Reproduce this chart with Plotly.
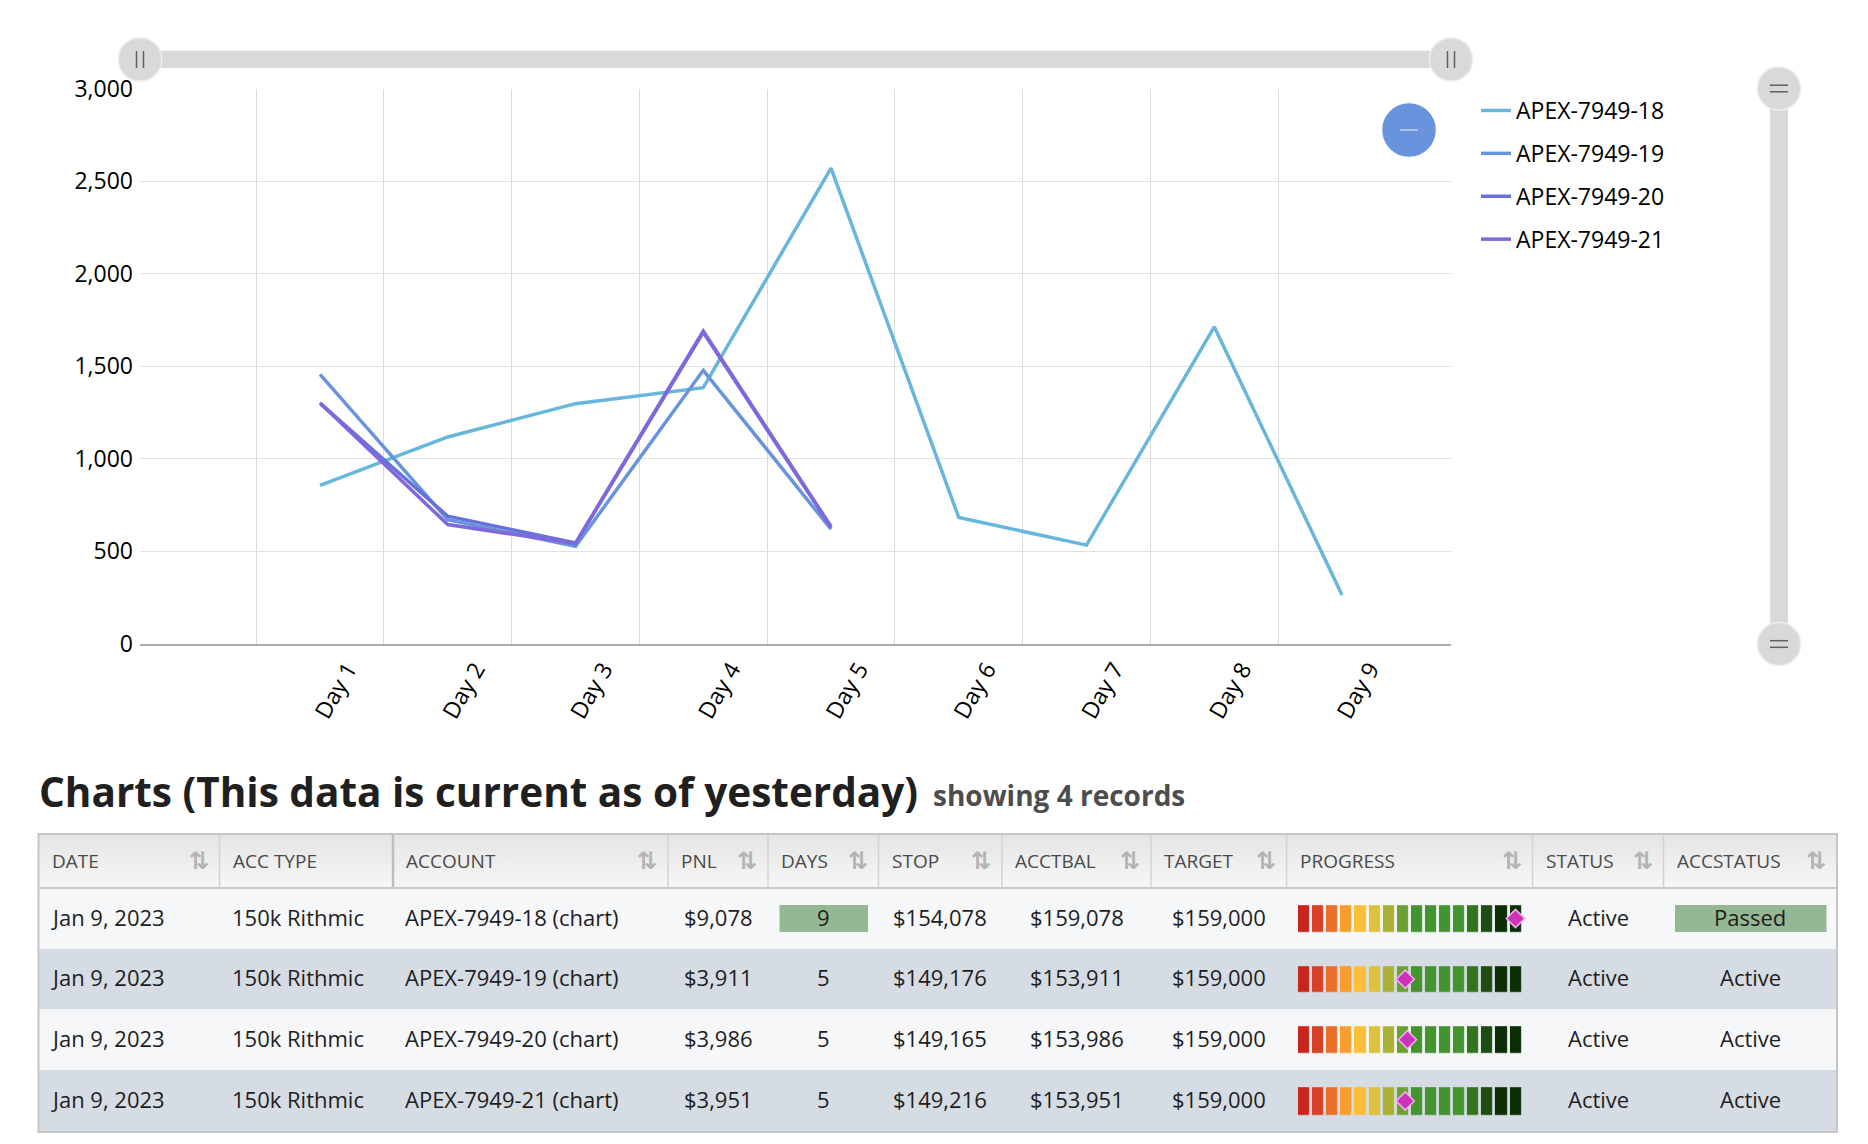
import plotly.graph_objects as go

# =========================
# DATA
# =========================
days_lbl = ["Day 1", "Day 2", "Day 3", "Day 4", "Day 5", "Day 6", "Day 7", "Day 8", "Day 9"]
day_idx = [1, 2, 3, 4, 5, 6, 7, 8, 9]

apex_18 = [857, 1118, 1298, 1384, 2570, 683, 534, 1713, 265]
apex_19 = [1456, 671, 527, 1478, 620]
apex_20 = [1301, 690, 545, 1690, 635]
apex_21 = [1301, 645, 542, 1683, 630]

series_names = ["APEX-7949-18", "APEX-7949-19", "APEX-7949-20", "APEX-7949-21"]
series_vals = [apex_18, apex_19, apex_20, apex_21]
series_colors = ["#67b7dc", "#6794dc", "#6771dc", "#8067dc"]

y_ticks = [0, 500, 1000, 1500, 2000, 2500, 3000]

# table
headers = ["DATE", "ACC TYPE", "ACCOUNT", "PNL", "DAYS", "STOP", "ACCTBAL", "TARGET",
           "PROGRESS", "STATUS", "ACCSTATUS"]
sortable = [True, False, True, True, True, True, True, True, True, True, True]
dates = ["Jan 9, 2023", "Jan 9, 2023", "Jan 9, 2023", "Jan 9, 2023"]
acc_types = ["150k Rithmic", "150k Rithmic", "150k Rithmic", "150k Rithmic"]
accounts = ["APEX-7949-18 (chart)", "APEX-7949-19 (chart)", "APEX-7949-20 (chart)", "APEX-7949-21 (chart)"]
pnl = [9078, 3911, 3986, 3951]
days_traded = [9, 5, 5, 5]
stop = [154078, 149176, 149165, 149216]
acctbal = [159078, 153911, 153986, 153951]
target = [159000, 159000, 159000, 159000]
progress_pct = [97.5, 48.0, 49.0, 48.0]
status = ["Active", "Active", "Active", "Active"]
accstatus = ["Passed", "Active", "Active", "Active"]

seg_colors = ["#c8261c", "#d84127", "#ea6f2a", "#fb9c30", "#fdbe38", "#dfc23c", "#aab234", "#6da033",
              "#43932e", "#43932e", "#43932e", "#43932e", "#33741f", "#1d4d12", "#0d2e05", "#0b2f05"]

# =========================
# PAGE GEOMETRY (pixels)
# =========================
W, H = 1868, 1144
OFF = 8  # page body margin
PLOT_L, PLOT_R, PLOT_T, PLOT_B = 140, 1451, 88.5, 644


def fx(x):
    return (x - OFF) / W


def fy(y):
    return 1 - (y - OFF) / H


col_edges = [38.5, 219.5, 393, 668, 768, 878.5, 1002, 1151, 1286.6, 1532.5, 1663.5, 1837]
col_align = ["left", "left", "left", "center", "center", "center", "center", "center", "bar", "center", "center"]
head_top, head_bot = 834, 888
row_edges = [888, 949, 1009.5, 1070, 1132]

fig = go.Figure()

# =========================
# LINE CHART
# =========================
for name, vals, color in zip(series_names, series_vals, series_colors):
    fig.add_trace(go.Scatter(
        x=day_idx[:len(vals)], y=vals, mode="lines", name=name,
        line=dict(color=color, width=3.5),
        legendgroup=name, hoverinfo="x+y+name",
    ))

# =========================
# TABLE (pixel axes x2/y2)
# =========================
shapes = []
annotations = []
row_bg = ["#f5f7f9", "#d5dce3", "#f5f7f9", "#d5dce3"]
for r in range(4):
    shapes.append(dict(type="rect", xref="x2", yref="y2", layer="below",
                       x0=col_edges[0], x1=col_edges[-1], y0=row_edges[r], y1=row_edges[r + 1],
                       fillcolor=row_bg[r], line=dict(width=0)))

# header gradient
fig.add_trace(go.Scatter(
    x=[col_edges[0], col_edges[-1], col_edges[-1], col_edges[0], col_edges[0]],
    y=[head_top, head_top, head_bot, head_bot, head_top],
    xaxis="x2", yaxis="y2", mode="lines", line=dict(width=0), fill="toself",
    fillgradient=dict(type="vertical", colorscale=[[0, "#f7f7f7"], [1, "#e4e4e4"]]),
    hoverinfo="skip", showlegend=False,
))

row_mid = [(row_edges[r] + row_edges[r + 1]) / 2 for r in range(4)]

# badges (passed accounts)
for r in range(4):
    if accstatus[r] == "Passed":
        for c in (4, 10):
            shapes.append(dict(type="rect", xref="x2", yref="y2", layer="below",
                               x0=col_edges[c] + 11.5, x1=col_edges[c + 1] - 10.5,
                               y0=row_mid[r] - 13.4, y1=row_mid[r] + 13.4,
                               fillcolor="#96b794", line=dict(width=0)))

# progress bars: heatmap segments
bar_l = col_edges[8] + 11.7
pitch = 14.1
seg_x = [bar_l - 1.4 + pitch * k + pitch / 2 for k in range(len(seg_colors))]
cscale = []
for k, c in enumerate(seg_colors):
    cscale.append([k / len(seg_colors), c])
    cscale.append([(k + 1) / len(seg_colors), c])
fig.add_trace(go.Heatmap(
    x=seg_x, y=row_mid, z=[list(range(len(seg_colors))) for _ in range(4)],
    zmin=-0.5, zmax=len(seg_colors) - 0.5, colorscale=cscale, showscale=False,
    xgap=2.8, ygap=(row_edges[1] - row_edges[0]) - 26.8,
    xaxis="x2", yaxis="y2", hoverinfo="skip",
))
bar_w = pitch * len(seg_colors) - 2.8
fig.add_trace(go.Scatter(
    x=[bar_l + p / 100 * bar_w for p in progress_pct], y=row_mid,
    mode="markers", xaxis="x2", yaxis="y2",
    marker=dict(symbol="diamond", size=14, color="#cc33bb", line=dict(color="#f0b0e8", width=1.5)),
    hoverinfo="skip", showlegend=False,
))

# header separators, borders
for c in range(1, len(col_edges) - 1):
    shapes.append(dict(type="line", xref="x2", yref="y2", x0=col_edges[c], x1=col_edges[c],
                       y0=head_top, y1=head_bot,
                       line=dict(color="#bdbdbd" if c == 2 else "#d3d3d3", width=2.5 if c == 2 else 1.5)))
shapes.append(dict(type="line", xref="x2", yref="y2", x0=col_edges[0], x1=col_edges[-1],
                   y0=head_bot, y1=head_bot, line=dict(color="#c9c9c9", width=2)))
shapes.append(dict(type="rect", xref="x2", yref="y2", x0=col_edges[0], x1=col_edges[-1],
                   y0=head_top, y1=row_edges[-1], line=dict(color="#c6c6c6", width=2)))

head_mid = (head_top + head_bot) / 2
for c, h in enumerate(headers):
    annotations.append(dict(xref="x2", yref="y2", x=col_edges[c] + 11, y=head_mid, text=h,
                            xanchor="left", yanchor="middle", showarrow=False,
                            font=dict(family="Open Sans", size=19, color="#4a4a4a")))
    if sortable[c]:
        annotations.append(dict(xref="x2", yref="y2", x=col_edges[c + 1] - 21, y=head_mid,
                                text="<b>⇅</b>", xanchor="center", yanchor="middle", showarrow=False,
                                font=dict(family="DejaVu Sans", size=24, color="#b4b4b4")))

columns = [dates, acc_types, accounts,
           [f"${v:,}" for v in pnl], [str(v) for v in days_traded],
           [f"${v:,}" for v in stop], [f"${v:,}" for v in acctbal], [f"${v:,}" for v in target],
           None, status, accstatus]
for c, vals in enumerate(columns):
    if vals is None:
        continue
    for r, v in enumerate(vals):
        if col_align[c] == "left":
            xa, xpos = "left", col_edges[c] + 10
        else:
            xa, xpos = "center", (col_edges[c] + col_edges[c + 1]) / 2
        annotations.append(dict(xref="x2", yref="y2", x=xpos, y=row_mid[r] - 2, text=v,
                                xanchor=xa, yanchor="middle", showarrow=False,
                                font=dict(family="Open Sans", size=22, color="#1e1e1e")))

# title
annotations.append(dict(xref="paper", yref="paper", x=fx(37), y=fy(791),
                        text="<b>Charts (This data is current as of yesterday)</b>",
                        xanchor="left", yanchor="middle", showarrow=False,
                        font=dict(family="Open Sans", size=40.5, color="#202020")))
annotations.append(dict(xref="paper", yref="paper", x=fx(931), y=fy(795),
                        text="<b>showing 4 records</b>",
                        xanchor="left", yanchor="middle", showarrow=False,
                        font=dict(family="Open Sans", size=28, color="#4d4d4d")))

# =========================
# SCROLLBARS / ZOOM BUTTON (decoration)
# =========================
GRIP = "#d9d9d9"
R = 21.7


def circle(cx, cy, r, fill, line_col=None):
    return dict(type="circle", xref="paper", yref="paper",
                x0=fx(cx - r), x1=fx(cx + r), y0=fy(cy + r), y1=fy(cy - r),
                fillcolor=fill, line=dict(color=line_col or fill, width=1.5))


def seg(x0, y0, x1, y1, color, width):
    return dict(type="line", xref="paper", yref="paper",
                x0=fx(x0), x1=fx(x1), y0=fy(y0), y1=fy(y1), line=dict(color=color, width=width))


shapes.append(dict(type="rect", xref="paper", yref="paper", x0=fx(PLOT_L), x1=fx(PLOT_R),
                   y0=fy(68), y1=fy(50.7), fillcolor=GRIP, line=dict(width=0)))
for cx in (PLOT_L, PLOT_R):
    shapes.append(circle(cx, 59.4, R, GRIP, "#eeeeee"))
    shapes.append(seg(cx - 3.5, 51, cx - 3.5, 68, "#606060", 1.5))
    shapes.append(seg(cx + 3.5, 51, cx + 3.5, 68, "#606060", 1.5))

shapes.append(dict(type="rect", xref="paper", yref="paper", x0=fx(1770), x1=fx(1788),
                   y0=fy(PLOT_B), y1=fy(PLOT_T), fillcolor=GRIP, line=dict(width=0)))
for cy in (PLOT_T, PLOT_B):
    shapes.append(circle(1779, cy, R, GRIP, "#eeeeee"))
    shapes.append(seg(1770, cy - 3.3, 1788, cy - 3.3, "#606060", 1.5))
    shapes.append(seg(1770, cy + 3.3, 1788, cy + 3.3, "#606060", 1.5))

shapes.append(circle(1409, 130, 26, "#6794dc"))
shapes.append(seg(1400, 130, 1418, 130, "#a9c2ee", 2))

# =========================
# LAYOUT
# =========================
fig.update_layout(
    width=W, height=H,
    margin=dict(l=0, r=0, t=0, b=0, pad=0, autoexpand=False),
    paper_bgcolor="white", plot_bgcolor="rgba(0,0,0,0)",
    font=dict(family="Open Sans", color="#000000"),
    showlegend=True,
    legend=dict(x=fx(1476), y=fy(89), xanchor="left", yanchor="top",
                font=dict(size=23, color="#000000"), tracegroupgap=10,
                bgcolor="rgba(0,0,0,0)", itemwidth=30),
    xaxis=dict(domain=[fx(PLOT_L), fx(PLOT_R)], range=[-0.409, 9.853], automargin=False,
               tickmode="array", tickvals=day_idx, ticktext=days_lbl, tickangle=-60,
               tickfont=dict(size=23, color="#000000"), ticks="",
               ticklabelshift=28, ticklabelstandoff=1,
               showgrid=False, zeroline=False,
               showline=True, linecolor="#aaaaaa", linewidth=1.5,
               minor=dict(tickmode="array", tickvals=[d - 0.5 for d in day_idx],
                          showgrid=True, gridcolor="#dadada", gridwidth=1.2),
               fixedrange=True),
    yaxis=dict(domain=[fy(PLOT_B), fy(PLOT_T)], range=[0, 3000], automargin=False,
               tickmode="array", tickvals=y_ticks, tickformat=",",
               tickfont=dict(size=23, color="#000000"), ticks="", ticklabelstandoff=6,
               showgrid=True, gridcolor="#e1e1e1", gridwidth=1.2, zeroline=False,
               fixedrange=True),
    xaxis2=dict(domain=[0, 1], range=[OFF, W + OFF], visible=False, fixedrange=True, automargin=False),
    yaxis2=dict(domain=[0, 1], range=[H + OFF, OFF], visible=False, fixedrange=True, automargin=False),
    shapes=shapes,
    annotations=annotations,
)

fig.write_html("out.html")
